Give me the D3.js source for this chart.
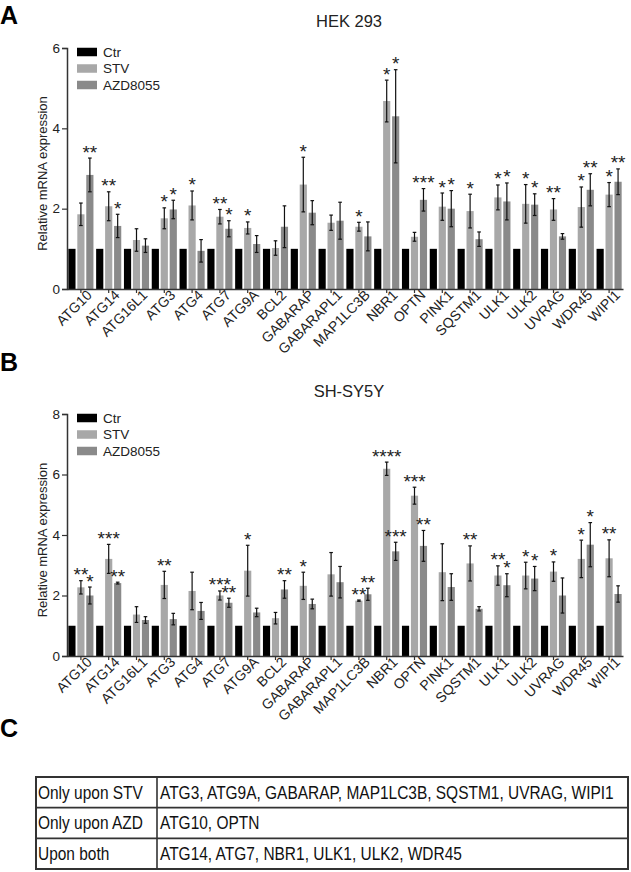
<!DOCTYPE html>
<html>
<head>
<meta charset="utf-8">
<script src="https://cdn.jsdelivr.net/npm/d3@7"></script>
<style>
  body { margin: 0; background: #fff; }
  text { font-family: "Liberation Sans", Arial, Helvetica, sans-serif; }
</style>
</head>
<body>
<svg id="chart"></svg>
<script>
// genes on the x axis (same for both panels)
var genes = ["ATG10","ATG14","ATG16L1","ATG3","ATG4","ATG7","ATG9A","BCL2","GABARAP","GABARAPL1",
             "MAP1LC3B","NBR1","OPTN","PINK1","SQSTM1","ULK1","ULK2","UVRAG","WDR45","WIPI1"];
var series = ["Ctr","STV","AZD8055"];

// HEK 293
var hekCtr    = [1,1,1,1,1,1,1,1,1,1,1,1,1,1,1,1,1,1,1,1];
var hekStv    = [1.86,2.06,1.22,1.76,2.08,1.80,1.52,1.02,2.60,1.65,1.55,4.68,1.30,2.05,1.94,2.28,2.12,1.98,2.04,2.35];
var hekStvErr = [0.28,0.36,0.28,0.26,0.36,0.18,0.15,0.18,0.68,0.19,0.11,0.52,0.11,0.34,0.42,0.31,0.48,0.27,0.50,0.30];
var hekAzd    = [2.84,1.57,1.08,1.98,0.95,1.50,1.12,1.55,1.90,1.70,1.31,4.30,2.22,2.00,1.24,2.18,2.10,1.31,2.47,2.67];
var hekAzdErr = [0.42,0.29,0.17,0.23,0.28,0.20,0.21,0.52,0.30,0.46,0.36,1.16,0.28,0.45,0.18,0.46,0.27,0.07,0.40,0.32];
var hekStvSig = ["","**","","*","*","**","*","","*","","*","*","","*","*","*","*","**","*","*"];
var hekAzdSig = ["**","*","","*","","*","","","","","","*","***","*","","*","*","","**","**"];
var hekTicks  = [0,2,4,6];

// SH-SY5Y
var shCtr    = [1,1,1,1,1,1,1,1,1,1,1,1,1,1,1,1,1,1,1,1];
var shStv    = [2.27,3.21,1.37,2.35,2.15,2.00,2.82,1.25,2.32,2.70,1.83,6.19,5.30,2.77,3.06,2.66,2.66,2.79,3.21,3.23];
var shStvErr = [0.22,0.48,0.26,0.45,0.62,0.15,0.84,0.19,0.45,0.72,0.02,0.22,0.28,0.94,0.58,0.32,0.44,0.32,0.62,0.61];
var shAzd    = [2.00,2.41,1.19,1.22,1.49,1.76,1.44,2.20,1.72,2.44,2.04,3.46,3.64,2.28,1.56,2.34,2.56,2.00,3.68,2.05];
var shAzdErr = [0.28,0.03,0.11,0.19,0.28,0.15,0.14,0.29,0.16,0.52,0.20,0.30,0.51,0.44,0.07,0.38,0.40,0.58,0.73,0.27];
var shStvSig = ["**","***","","**","","***","*","","*","","**","****","***","","**","**","*","*","*","**"];
var shAzdSig = ["*","**","","","","**","","**","","","**","***","**","","","*","*","","*",""];
var shTicks  = [0,2,4,6,8];

// table (panel C)
var tableLabels = ["Only upon STV","Only upon AZD","Upon both"];
var tableGenes  = ["ATG3, ATG9A, GABARAP, MAP1LC3B, SQSTM1, UVRAG, WIPI1",
                   "ATG10, OPTN",
                   "ATG14, ATG7, NBR1, ULK1, ULK2, WDR45"];

var colors = {"Ctr":"#000000","STV":"#a8a8a8","AZD8055":"#8a8a8a"};

var svg = d3.select("#chart").attr("width",631).attr("height",872);

function panel(opt) {
  var g = svg.append("g");
  var x = d3.scaleBand().domain(genes).range([67,623]);
  var xs = d3.scaleBand().domain(series).range([0,x.bandwidth()]).paddingInner(0.2).paddingOuter(0.15);
  var y = d3.scaleLinear().domain([0,opt.max]).range([opt.bottom,opt.top]);

  // panel letter + title
  svg.append("text").attr("x",0).attr("y",opt.letterY).text(opt.letter)
    .attr("font-size",25).attr("font-weight","bold");
  svg.append("text").attr("x",349).attr("y",opt.titleY).text(opt.title)
    .attr("text-anchor","middle").attr("font-size",16.5).attr("fill","#222");

  var rows = genes.map(function(gname,i){
    return {gene:gname, vals:[
      {s:"Ctr", v:opt.ctr[i], e:0, sig:""},
      {s:"STV", v:opt.stv[i], e:opt.stvErr[i], sig:opt.stvSig[i]},
      {s:"AZD8055", v:opt.azd[i], e:opt.azdErr[i], sig:opt.azdSig[i]}
    ]};
  });

  var grp = g.selectAll(".grp").data(rows).enter().append("g")
    .attr("transform",function(d){ return "translate("+x(d.gene)+",0)"; });

  grp.selectAll("rect").data(function(d){ return d.vals; }).enter().append("rect")
    .attr("x",function(d){ return xs(d.s); })
    .attr("width",xs.bandwidth())
    .attr("y",function(d){ return y(d.v); })
    .attr("height",function(d){ return y(0)-y(d.v); })
    .attr("fill",function(d){ return colors[d.s]; });

  var eb = grp.selectAll(".err").data(function(d){ return d.vals.filter(function(v){ return v.e>0; }); })
    .enter().append("g").attr("stroke","#111").attr("stroke-width",1.2);
  eb.append("line")
    .attr("x1",function(d){ return xs(d.s)+xs.bandwidth()/2; })
    .attr("x2",function(d){ return xs(d.s)+xs.bandwidth()/2; })
    .attr("y1",function(d){ return y(d.v-d.e); })
    .attr("y2",function(d){ return y(d.v+d.e); });
  [1,-1].forEach(function(sgn){
    eb.append("line")
      .attr("x1",function(d){ return xs(d.s)+xs.bandwidth()/2-1.8; })
      .attr("x2",function(d){ return xs(d.s)+xs.bandwidth()/2+1.8; })
      .attr("y1",function(d){ return y(d.v+sgn*d.e); })
      .attr("y2",function(d){ return y(d.v+sgn*d.e); });
  });

  // significance stars
  grp.selectAll(".sig").data(function(d){ return d.vals.filter(function(v){ return v.sig; }); })
    .enter().append("text")
    .attr("x",function(d){ return xs(d.s)+xs.bandwidth()/2; })
    .attr("y",function(d){ return y(d.v+d.e)+0.5; })
    .attr("text-anchor","middle").attr("font-size",19).attr("fill","#222")
    .text(function(d){ return d.sig; });

  // axes
  var yAxis = g.append("g").attr("transform","translate(67,0)")
    .call(d3.axisLeft(y).tickValues(opt.ticks).tickSize(5).tickPadding(2).tickFormat(d3.format("d")));
  var xAxis = g.append("g").attr("transform","translate(0,"+opt.bottom+")")
    .call(d3.axisBottom(x).tickSize(4).tickSizeOuter(0));
  [yAxis,xAxis].forEach(function(a){
    a.select(".domain").attr("stroke","#333").attr("stroke-width",1.5);
    a.selectAll(".tick line").attr("stroke","#333").attr("stroke-width",1.2);
    a.selectAll("text").attr("fill","#222").attr("font-family","'Liberation Sans', Arial, sans-serif");
  });
  yAxis.selectAll("text").attr("font-size",13.5);
  xAxis.selectAll("text").attr("font-size",14)
    .attr("text-anchor","end").attr("dx","0.25em").attr("dy","0.45em")
    .attr("transform","rotate(-45)");

  svg.append("text")
    .attr("transform","translate(47,"+((opt.top+opt.bottom)/2+5)+") rotate(-90)")
    .attr("text-anchor","middle").attr("font-size",13).attr("fill","#222")
    .text("Relative mRNA expression");

  // legend
  var lg = g.selectAll(".lg").data(series).enter().append("g")
    .attr("transform",function(d,i){ return "translate(77,"+(opt.top+4+i*16.5)+")"; });
  lg.append("rect").attr("width",20).attr("height",8.5).attr("y",-4.25)
    .attr("fill",function(d){ return colors[d]; });
  lg.append("text").attr("x",26).attr("dy","0.36em").attr("font-size",13.5).attr("fill","#222")
    .text(function(d){ return d; });
}

panel({letter:"A", letterY:24, title:"HEK 293", titleY:27, top:48, bottom:289, max:6, ticks:hekTicks,
       ctr:hekCtr, stv:hekStv, stvErr:hekStvErr, azd:hekAzd, azdErr:hekAzdErr,
       stvSig:hekStvSig, azdSig:hekAzdSig});
panel({letter:"B", letterY:371, title:"SH-SY5Y", titleY:397, top:414, bottom:656, max:8, ticks:shTicks,
       ctr:shCtr, stv:shStv, stvErr:shStvErr, azd:shAzd, azdErr:shAzdErr,
       stvSig:shStvSig, azdSig:shAzdSig});

// panel C: table
svg.append("text").attr("x",0).attr("y",737).text("C").attr("font-size",25).attr("font-weight","bold");

var tTop = 777, tBottom = 869, tLeft = 36, tMid = 157, tRight = 628;
var ty = d3.scaleBand().domain(tableLabels).range([tTop,tBottom]);
var tbl = svg.append("g");
tbl.append("rect").attr("x",tLeft).attr("y",tTop).attr("width",tRight-tLeft).attr("height",tBottom-tTop)
  .attr("fill","none").attr("stroke","#333").attr("stroke-width",2);
tbl.append("line").attr("x1",tMid).attr("x2",tMid).attr("y1",tTop).attr("y2",tBottom)
  .attr("stroke","#333").attr("stroke-width",1.6);
tbl.selectAll(".rl").data(tableLabels.slice(1)).enter().append("line")
  .attr("x1",tLeft).attr("x2",tRight)
  .attr("y1",function(d){ return ty(d); }).attr("y2",function(d){ return ty(d); })
  .attr("stroke","#333").attr("stroke-width",1.6);
// text in the reference is slightly condensed
tbl.selectAll(".tl").data(tableLabels).enter().append("text")
  .attr("transform",function(d){ return "translate("+(tLeft+2)+","+(ty(d)+ty.bandwidth()/2)+") scale(0.86,1)"; })
  .attr("dy","0.36em").attr("font-size",18).attr("fill","#111").text(function(d){ return d; });
tbl.selectAll(".tg").data(tableGenes).enter().append("text")
  .attr("transform",function(d,i){ return "translate("+(tMid+3)+","+(ty(tableLabels[i])+ty.bandwidth()/2)+") scale(0.86,1)"; })
  .attr("dy","0.36em").attr("font-size",18).attr("fill","#111").text(function(d){ return d; });
</script>
</body>
</html>
